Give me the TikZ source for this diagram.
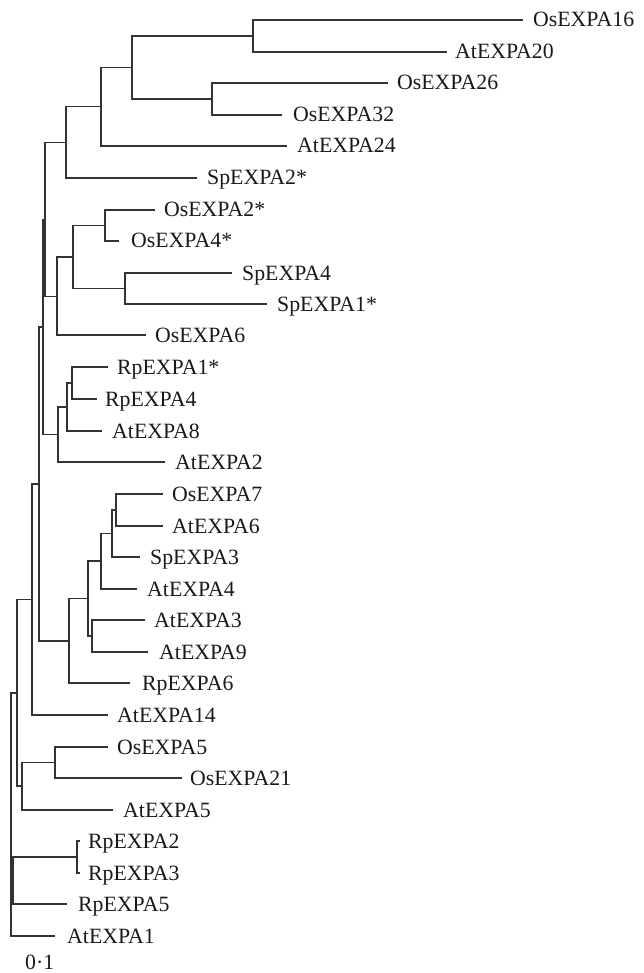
\documentclass[tikz,border=0pt]{standalone}
\usepackage{fontspec}
\setmainfont{Liberation Serif}
\begin{document}
\begin{tikzpicture}[x=1pt,y=-1pt,
  br/.style={draw=black!80,line width=1.1pt},
  lab/.style={anchor=base west,inner sep=0pt,font=\fontsize{21.8}{24}\selectfont,text=black!90}]
\useasboundingbox (0,0) rectangle (643,973);
% leaf tips
\coordinate (t1) at (523,20);
\coordinate (t2) at (447,52);
\coordinate (t3) at (388,83);
\coordinate (t4) at (282,115);
\coordinate (t5) at (287,146);
\coordinate (t6) at (197,178);
\coordinate (t7) at (155,210);
\coordinate (t8) at (119,241);
\coordinate (t9) at (232,273);
\coordinate (t10) at (267,304);
\coordinate (t11) at (146,335);
\coordinate (t12) at (108,367);
\coordinate (t13) at (97,399);
\coordinate (t14) at (102,431);
\coordinate (t15) at (165,462);
\coordinate (t16) at (163,494);
\coordinate (t17) at (163,526);
\coordinate (t18) at (140,557);
\coordinate (t19) at (137,589);
\coordinate (t20) at (145,620);
\coordinate (t21) at (148,652);
\coordinate (t22) at (130,683);
\coordinate (t23) at (108,715);
\coordinate (t24) at (108,747);
\coordinate (t25) at (182,778);
\coordinate (t26) at (113,810);
\coordinate (t27) at (80,841);
\coordinate (t28) at (80,873);
\coordinate (t29) at (67,904);
\coordinate (t30) at (55,936);
% labels
\node[lab] (l1) at (533,27) {OsEXPA16};
\node[lab] (l2) at (455,59) {AtEXPA20};
\node[lab] (l3) at (397,90) {OsEXPA26};
\node[lab] (l4) at (293,122) {OsEXPA32};
\node[lab] (l5) at (297,153) {AtEXPA24};
\node[lab] (l6) at (207,185) {SpEXPA2*};
\node[lab] (l7) at (164,217) {OsEXPA2*};
\node[lab] (l8) at (131,248) {OsEXPA4*};
\node[lab] (l9) at (242,280) {SpEXPA4};
\node[lab] (l10) at (277,311) {SpEXPA1*};
\node[lab] (l11) at (155,342) {OsEXPA6};
\node[lab] (l12) at (117,374) {RpEXPA1*};
\node[lab] (l13) at (105,406) {RpEXPA4};
\node[lab] (l14) at (112,438) {AtEXPA8};
\node[lab] (l15) at (175,469) {AtEXPA2};
\node[lab] (l16) at (172,501) {OsEXPA7};
\node[lab] (l17) at (172,533) {AtEXPA6};
\node[lab] (l18) at (150,564) {SpEXPA3};
\node[lab] (l19) at (147,596) {AtEXPA4};
\node[lab] (l20) at (154,627) {AtEXPA3};
\node[lab] (l21) at (159,659) {AtEXPA9};
\node[lab] (l22) at (142,690) {RpEXPA6};
\node[lab] (l23) at (117,722) {AtEXPA14};
\node[lab] (l24) at (117,754) {OsEXPA5};
\node[lab] (l25) at (190,785) {OsEXPA21};
\node[lab] (l26) at (123,817) {AtEXPA5};
\node[lab] (l27) at (88,848) {RpEXPA2};
\node[lab] (l28) at (88,880) {RpEXPA3};
\node[lab] (l29) at (78,911) {RpEXPA5};
\node[lab] (l30) at (67,943) {AtEXPA1};
\node[lab] (scale) at (25,969) {0·1};
% internal nodes
\coordinate (nA) at (253,36);
\coordinate (nB) at (212,99);
\coordinate (nC) at (132,67.5);
\coordinate (nD) at (101,106.75);
\coordinate (nE) at (66,142.4);
\coordinate (nI) at (105,225.5);
\coordinate (nJ) at (125,288.5);
\coordinate (nH) at (73,257);
\coordinate (nG) at (57,296.5);
\coordinate (nF) at (45,219.5);
\coordinate (nM) at (72,383);
\coordinate (nN) at (67,407);
\coordinate (nO) at (58,434.5);
\coordinate (nK) at (43,327);
\coordinate (nQ) at (116,510);
\coordinate (nR) at (112,533.5);
\coordinate (nS) at (101,561);
\coordinate (nU) at (92,636);
\coordinate (nT) at (88,598.5);
\coordinate (nV) at (69,641);
\coordinate (nL) at (39,484);
\coordinate (nP) at (32,599.5);
\coordinate (nX) at (55,762.5);
\coordinate (nY) at (22,786);
\coordinate (nQQ) at (17,693);
\coordinate (nZ) at (77,857);
\coordinate (nAA) at (13,880.5);
\coordinate (nR0) at (11,880.5);
% branches
\draw[br] (t1) -| (nA) |- (t2);
\draw[br] (t3) -| (nB) |- (t4);
\draw[br] (nA) -| (nC) |- (nB);
\draw[br] (nC) -| (nD) |- (t5);
\draw[br] (nD) -| (nE) |- (t6);
\draw[br] (t7) -| (nI) |- (t8);
\draw[br] (t9) -| (nJ) |- (t10);
\draw[br] (nI) -| (nH) |- (nJ);
\draw[br] (nH) -| (nG) |- (t11);
\draw[br] (nE) -| (nF) |- (nG);
\draw[br] (t12) -| (nM) |- (t13);
\draw[br] (nM) -| (nN) |- (t14);
\draw[br] (nN) -| (nO) |- (t15);
\draw[br] (nF) -| (nK) |- (nO);
\draw[br] (t16) -| (nQ) |- (t17);
\draw[br] (nQ) -| (nR) |- (t18);
\draw[br] (nR) -| (nS) |- (t19);
\draw[br] (t20) -| (nU) |- (t21);
\draw[br] (nS) -| (nT) |- (nU);
\draw[br] (nT) -| (nV) |- (t22);
\draw[br] (nK) -| (nL) |- (nV);
\draw[br] (nL) -| (nP) |- (t23);
\draw[br] (t24) -| (nX) |- (t25);
\draw[br] (nX) -| (nY) |- (t26);
\draw[br] (nP) -| (nQQ) |- (nY);
\draw[br] (t27) -| (nZ) |- (t28);
\draw[br] (nZ) -| (nAA) |- (t29);
\draw[br] (nQQ) -| (nR0) |- (t30);
\draw[br] (nR0) -- (nAA);
\end{tikzpicture}
\end{document}
